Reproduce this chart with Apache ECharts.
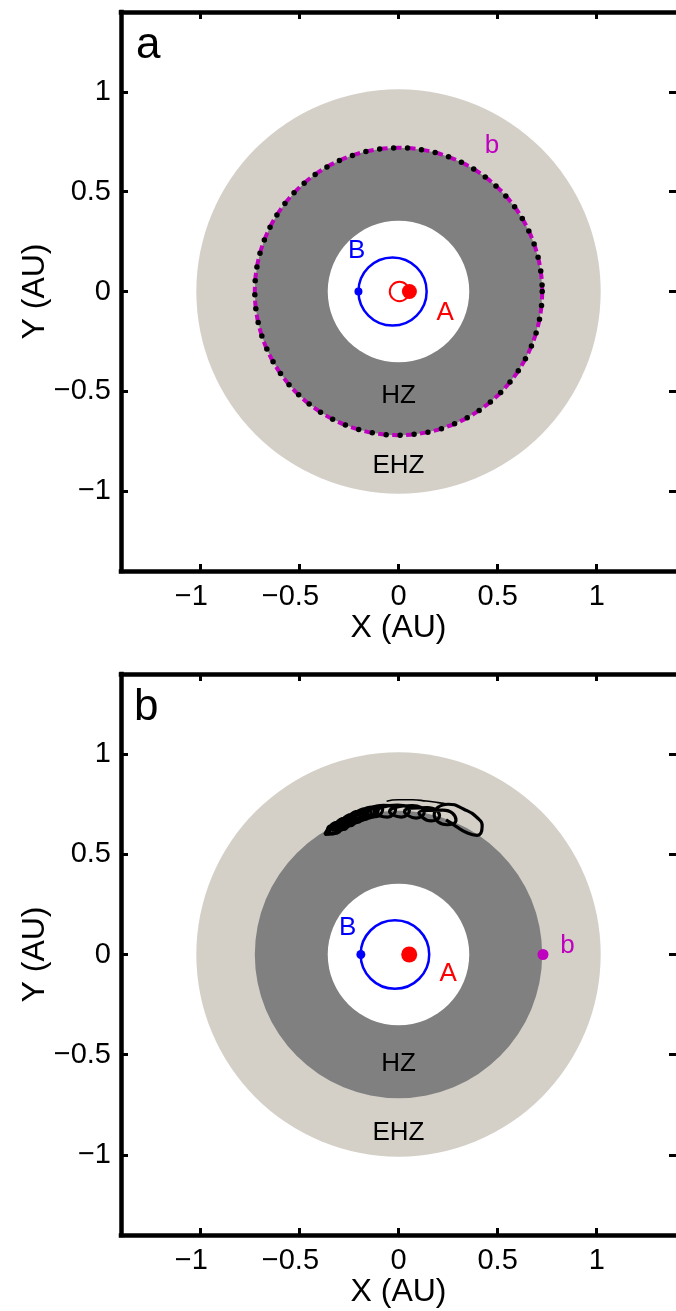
<!DOCTYPE html>
<html><head><meta charset="utf-8">
<script src="https://cdn.jsdelivr.net/npm/echarts@6/dist/echarts.min.js"></script>
<style>html,body{margin:0;padding:0;background:#fff}#c{width:676px;height:1311px}</style>
</head><body><div id="c"></div>
<script>
// ---- data ----
const tickValues = [-1, -0.5, 0, 0.5, 1];
const axisMin = -1.4, axisMax = 1.4;
const ehzRadius = 1.02;      // extended habitable zone outer edge (AU)
const hzRadius = 0.725;      // habitable zone outer edge (AU)
const innerRadius = 0.357;   // habitable zone inner edge (AU)
// panel a
const aOrbitB = [[-0.03, 0, 0.172]];
const aOrbitA = [[0.005, 0, 0.049]];
const aOrbitPlanet = [[0, 0, 0.725]];
const aStarA = [[0.055, 0]];
const aStarB = [[-0.202, 0]];
const aLabels = [[-0.211, 0.203, 'B'], [0.235, -0.107, 'A'], [0.472, 0.730, 'b'], [0, -0.523, 'HZ'], [0, -0.874, 'EHZ']];
// panel b
const bOrbitB = [[-0.018, 0, 0.173]];
const bStarA = [[0.054, 0]];
const bStarB = [[-0.19, 0]];
const bPlanet = [[0.729, 0]];
const bLabels = [[-0.256, 0.133, 'B'], [0.251, -0.095, 'A'], [0.853, 0.045, 'b'], [0, -0.545, 'HZ'], [0, -0.89, 'EHZ']];
// perturbed planet trajectory: coil of loops along the arc
const trajPass1 = [
  [-0.36,0.62],
  [-0.3422,0.642],[-0.299,0.6442],[-0.3278,0.602],[-0.371,0.5998],
  [-0.3072,0.6614],[-0.264,0.6614],[-0.2928,0.6206],[-0.336,0.6206],
  [-0.2722,0.6808],[-0.229,0.6786],[-0.2578,0.6392],[-0.301,0.6414],
  [-0.2372,0.6981],[-0.194,0.6938],[-0.2228,0.6559],[-0.266,0.6602],
  [-0.203,0.7142],[-0.155,0.7085],[-0.187,0.6698],[-0.235,0.6755],
  [-0.168,0.7268],[-0.12,0.7177],[-0.152,0.6812],[-0.20,0.6903],
  [-0.134,0.7362],[-0.08,0.7236],[-0.116,0.6878],[-0.17,0.7004],
  [-0.075,0.744],[-0.015,0.7227],[-0.055,0.686],[-0.115,0.7073],
  [-0.005,0.746],[0.055,0.7187],[0.015,0.686],[-0.045,0.7133],
  [0.07,0.743],[0.13,0.7097],[0.09,0.681],[0.03,0.7143],
  [0.1446,0.7331],[0.207,0.6924],[0.1654,0.6669],[0.103,0.7076],
  [0.224,0.7203],[0.29,0.6705],[0.246,0.6477],[0.18,0.6975],
  [0.25,0.75],[0.33,0.725],[0.40,0.68],[0.422,0.64],[0.397,0.595],[0.34,0.61],[0.29,0.64],[0.24,0.672]
];
const trajPass2 = [
  [-0.345,0.625],
  [-0.3247,0.646],[-0.2815,0.6482],[-0.3103,0.606],[-0.3535,0.6038],
  [-0.2897,0.6654],[-0.2465,0.6654],[-0.2753,0.6246],[-0.3185,0.6246],
  [-0.2547,0.6848],[-0.2115,0.6826],[-0.2403,0.6432],[-0.2835,0.6454],
  [-0.2197,0.7021],[-0.1765,0.6978],[-0.2053,0.6599],[-0.2485,0.6642],
  [-0.1855,0.7182],[-0.1375,0.7125],[-0.1695,0.6738],[-0.2175,0.6795],
  [-0.1505,0.7308],[-0.1025,0.7217],[-0.1345,0.6852],[-0.1825,0.6943],
  [-0.12,0.735]
];
// thin outer arc of the trajectory
const trajOuterArc = [[-0.06,0.765],[0.0,0.772],[0.07,0.772],[0.14,0.766],[0.2,0.758],[0.25,0.75]];

// ---- styling / layout ----
const FONT = 'Liberation Sans, Arial, Helvetica, sans-serif';
const C_EHZ = '#d4d0c8', C_HZ = '#808080', C_RED = '#ff0000', C_BLUE = '#0000ff', C_MAG = '#bf00bf';
const TICK_FS = 29, NAME_FS = 32;
// x labels: digits centred on the tick, minus sign hanging to the left
const xFmt = v => v < 0 ? '{n|\u2212' + Math.abs(v) + '}{s| }' : '{n|' + v + '}';
const yFmt = v => String(v).replace('-', '\u2212');
const grids = [
  {left: 121, top: 12, width: 558, height: 559},
  {left: 121, top: 674, width: 558, height: 561}
];

function axisBase(g) {
  return {
    gridIndex: g, type: 'value', min: axisMin, max: axisMax,
    splitLine: {show: false},
    axisLine: {show: true, onZero: false, lineStyle: {color: '#000', width: 4.5, cap: 'square'}},
    axisTick: {show: true, inside: true, length: 7, lineStyle: {color: '#000', width: 3}, customValues: tickValues}
  };
}
function xAxes(g) {
  return [
    Object.assign(axisBase(g), {position: 'bottom',
      axisLabel: {show: true, customValues: tickValues, formatter: xFmt, color: '#000', margin: 11,
        rich: {n: {fontSize: TICK_FS, fontFamily: FONT, color: '#000'}, s: {fontSize: TICK_FS, fontFamily: FONT, width: 18}}},
      name: 'X (AU)', nameLocation: 'middle', nameGap: 38,
      nameTextStyle: {fontSize: NAME_FS, color: '#000', fontFamily: FONT}}),
    Object.assign(axisBase(g), {position: 'top', axisLabel: {show: false}})
  ];
}
function yAxes(g) {
  const right = axisBase(g);
  right.axisLine.lineStyle.color = 'rgba(0,0,0,0)';
  return [
    Object.assign(axisBase(g), {position: 'left',
      axisLabel: {show: true, customValues: tickValues, formatter: yFmt, fontSize: TICK_FS, color: '#000', fontFamily: FONT, margin: 10},
      name: 'Y (AU)', nameLocation: 'middle', nameGap: 70, nameMoveOverlap: false,
      nameTextStyle: {fontSize: NAME_FS, color: '#000', fontFamily: FONT}}),
    Object.assign(right, {position: 'right', axisLabel: {show: false}})
  ];
}

function circles(panel, data, style, z) {
  return {
    type: 'custom', coordinateSystem: 'cartesian2d', xAxisIndex: panel * 2, yAxisIndex: panel * 2,
    data: data, z: z, silent: true, clip: true,
    renderItem: function (params, api) {
      const c = api.coord([api.value(0), api.value(1)]);
      const r = api.size([api.value(2), 0])[0];
      return {type: 'circle', shape: {cx: c[0], cy: c[1], r: r}, style: Object.assign({}, style)};
    }
  };
}
function dots(panel, data, color, size, z) {
  return {type: 'scatter', xAxisIndex: panel * 2, yAxisIndex: panel * 2, data: data, z: z, silent: true,
    symbol: 'circle', symbolSize: size, itemStyle: {color: color, opacity: 1}};
}
function texts(panel, labels, colors, sizes) {
  return {
    type: 'custom', coordinateSystem: 'cartesian2d', xAxisIndex: panel * 2, yAxisIndex: panel * 2,
    data: labels.map(l => [l[0], l[1]]), z: 20, silent: true,
    renderItem: function (params, api) {
      const c = api.coord([api.value(0), api.value(1)]);
      const i = params.dataIndex;
      return {type: 'text', x: c[0], y: c[1], style: {text: labels[i][2], fill: colors[i], font: sizes[i] + 'px ' + FONT, align: 'center', verticalAlign: 'middle'}};
    }
  };
}
function trajLine(data, width) {
  return {type: 'line', xAxisIndex: 2, yAxisIndex: 2, data: data, z: 8, silent: true, smooth: 0.55,
    showSymbol: false, lineStyle: {color: '#000', width: width}};
}
const labelColors = [C_BLUE, C_RED, C_MAG, '#000', '#000'];
const labelSizes = [26, 26, 26, 26, 26];

const series = [];
for (let p = 0; p < 2; p++) {
  series.push(circles(p, [[0, 0, ehzRadius]], {fill: C_EHZ}, 1));
  series.push(circles(p, [[0, 0, hzRadius]], {fill: C_HZ}, 2));
  series.push(circles(p, [[0, 0, innerRadius]], {fill: '#fff'}, 3));
}
// panel a
series.push(circles(0, aOrbitPlanet, {fill: 'none', stroke: C_MAG, lineWidth: 4, lineDash: [8, 6]}, 5));
series.push(circles(0, aOrbitPlanet, {fill: 'none', stroke: '#000', lineWidth: 5.5, lineDash: [0, 14], lineCap: 'round'}, 6));
series.push(circles(0, aOrbitB, {fill: 'none', stroke: C_BLUE, lineWidth: 2.5}, 5));
series.push(circles(0, aOrbitA, {fill: 'none', stroke: C_RED, lineWidth: 2}, 5));
series.push(dots(0, aStarA, C_RED, 15, 7));
series.push(dots(0, aStarB, C_BLUE, 8, 7));
series.push(texts(0, aLabels, labelColors, labelSizes));
// panel b
series.push(circles(1, bOrbitB, {fill: 'none', stroke: C_BLUE, lineWidth: 2.5}, 5));
series.push(dots(1, bStarA, C_RED, 16, 7));
series.push(dots(1, bStarB, C_BLUE, 9, 7));
series.push(dots(1, bPlanet, C_MAG, 11, 7));
series.push(trajLine(trajPass1, 3.2));
series.push(trajLine(trajPass2, 3.2));
series.push(trajLine(trajOuterArc, 1.6));
series.push(texts(1, bLabels, labelColors, labelSizes));

const chart = echarts.init(document.getElementById('c'), null, {renderer: 'canvas'});
chart.setOption({
  animation: false,
  backgroundColor: '#fff',
  grid: grids,
  xAxis: xAxes(0).concat(xAxes(1)),
  yAxis: yAxes(0).concat(yAxes(1)),
  graphic: [
    {type: 'text', left: 136, top: 24, style: {text: 'a', font: '44px ' + FONT, fill: '#000'}, z: 100},
    {type: 'text', left: 134, top: 686, style: {text: 'b', font: '44px ' + FONT, fill: '#000'}, z: 100}
  ],
  series: series
});
</script></body></html>
